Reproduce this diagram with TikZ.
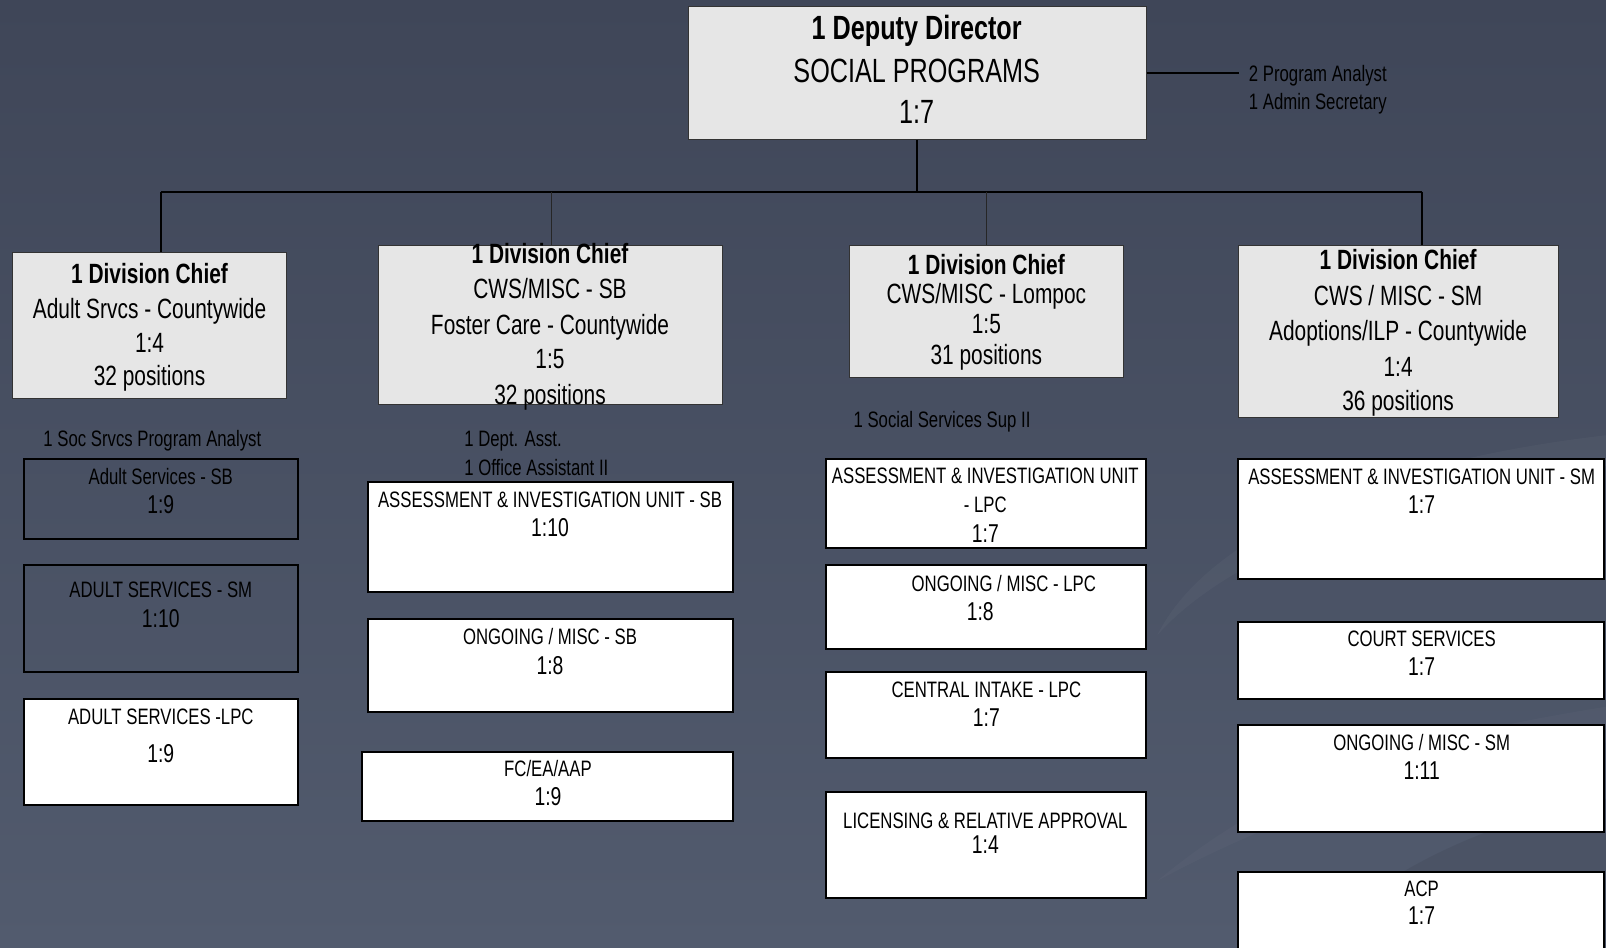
\documentclass[tikz,border=0pt]{standalone}
\usepackage{fontspec}
\setmainfont{Liberation Sans}[FakeStretch=0.75]
\usetikzlibrary{fit}
\definecolor{bgtop}{HTML}{3F4658}
\definecolor{bgbot}{HTML}{525B6E}
\definecolor{chiefgrey}{HTML}{E6E6E6}
\definecolor{chiefedge}{HTML}{333333}
\begin{document}
\begin{tikzpicture}[x=0.5pt,y=-0.5pt,
  line/.style={inner sep=0pt, text height=0.72em, text depth=0pt, anchor=center, text=black, yshift=-1pt},
  lline/.style={line, anchor=west},
  toptxt/.style={line, font=\fontsize{16.4}{19}\selectfont, yshift=-0.6pt},
  topbold/.style={line, font=\fontsize{16.4}{19}\bfseries, yshift=-0.6pt},
  chieftxt/.style={line, font=\fontsize{13.6}{16}\selectfont},
  chiefbold/.style={line, font=\fontsize{13.6}{16}\bfseries},
  unittxt/.style={line, font=\fontsize{10.9}{13}\selectfont},
  ratiotxt/.style={line, font=\fontsize{12.6}{14}\selectfont},
  stafftxt/.style={lline, font=\fontsize{10.9}{13}\selectfont},
  chief/.style={draw=chiefedge, line width=0.5pt, fill=chiefgrey, inner sep=0pt},
  unitbox/.style={draw=black, line width=1pt, fill=white, inner sep=0pt},
  darkbox/.style={draw=black, line width=1pt, inner sep=0pt},
  bus/.style={draw=black, line width=1pt},
  thinlink/.style={draw=black!85, line width=0.5pt}]

% background
\fill[top color=bgtop, bottom color=bgbot] (0,0) rectangle (1568,925);
\useasboundingbox (0,0) rectangle (1568,925);
% faint swooshes
\fill[white, opacity=0.03] (1568,425) .. controls (1350,450) and (1180,520) .. (1130,620)
  .. controls (1200,540) and (1380,470) .. (1568,455) -- cycle;
\fill[white, opacity=0.025] (1568,690) .. controls (1380,720) and (1250,760) .. (1130,860)
  .. controls (1260,790) and (1400,745) .. (1568,725) -- cycle;
\fill[black, opacity=0.06] (1568,780) .. controls (1450,800) and (1330,860) .. (1280,925)
  -- (1568,925) -- cycle;

% top box
\node[chief, fit={(672,6) (1119,136)}] (top) {};
\node[topbold] (top-1) at (895,28) {1 Deputy Director};
\node[toptxt] (top-2) at (895,70) {SOCIAL PROGRAMS};
\node[toptxt] (top-3) at (895,110) {1:7};

% staff of the deputy director
\coordinate (staffend) at (1210,71);
\draw[bus] (top.east) -- (staffend);
\node[stafftxt] (st0a) at (1219,70) {2 Program Analyst};
\node[stafftxt] (st0b) at (1219,98) {1 Admin Secretary};

% division chiefs
\node[chief, fit={(12,247) (280,389)}] (dc1) {};
\node[chiefbold] (dc1-1) at (146,268) {1 Division Chief};
\node[chieftxt] (dc1-2) at (146,302) {Adult Srvcs - Countywide};
\node[chieftxt] (dc1-3) at (146,335) {1:4};
\node[chieftxt] (dc1-4) at (146,367) {32 positions};

\node[chief, fit={(370,240) (705,395)}] (dc2) {};
\node[chiefbold] (dc2-1) at (537,248) {1 Division Chief};
\node[chieftxt] (dc2-2) at (537,282) {CWS/MISC - SB};
\node[chieftxt] (dc2-3) at (537,317) {Foster Care - Countywide};
\node[chieftxt] (dc2-4) at (537,351) {1:5};
\node[chieftxt] (dc2-5) at (537,386) {32 positions};

\node[chief, fit={(829,240) (1097,369)}] (dc3) {};
\node[chiefbold] (dc3-1) at (963,259) {1 Division Chief};
\node[chieftxt] (dc3-2) at (963,287) {CWS/MISC - Lompoc};
\node[chieftxt] (dc3-3) at (963,316) {1:5};
\node[chieftxt] (dc3-4) at (963,347) {31 positions};

\node[chief, fit={(1209,240) (1522,408)}] (dc4) {};
\node[chiefbold] (dc4-1) at (1365,254) {1 Division Chief};
\node[chieftxt] (dc4-2) at (1365,289) {CWS / MISC - SM};
\node[chieftxt] (dc4-3) at (1365,323) {Adoptions/ILP - Countywide};
\node[chieftxt] (dc4-4) at (1365,358) {1:4};
\node[chieftxt] (dc4-5) at (1365,392) {36 positions};

% connectors
\coordinate (j1) at (157,187);
\coordinate (j2) at (538,187);
\coordinate (j3) at (963,187);
\coordinate (j4) at (1388,187);
\draw[bus] (j1) -- (j4);
\draw[bus] (top.south) -- (top.south |- j1);
\draw[bus] (j1) -- (j1 |- dc1.north);
\draw[thinlink] (j2) -- (j2 |- dc2.north);
\draw[thinlink] (j3) -- (j3 |- dc3.north);
\draw[bus] (j4) -- (j4 |- dc4.north);

% support staff
\node[stafftxt] (st1) at (42,427) {1 Soc Srvcs Program Analyst};
\node[stafftxt] (st2a) at (453,427) {1 Dept. Asst.};
\node[stafftxt] (st2b) at (453,455) {1 Office Assistant II};
\node[stafftxt] (st3) at (833,408) {1 Social Services Sup II};

% adult services units
\node[darkbox, fit={(23,448) (291,526)}] (a1) {};
\node[unittxt] (a1-1) at (157,464) {Adult Services - SB};
\node[ratiotxt] (a1-2) at (157,492) {1:9};
\node[darkbox, fit={(23,552) (291,656)}] (a2) {};
\node[unittxt] (a2-1) at (157,574) {ADULT SERVICES - SM};
\node[ratiotxt] (a2-2) at (157,603) {1:10};
\node[unitbox, fit={(23,682) (291,786)}] (a3) {};
\node[unittxt] (a3-1) at (157,698) {ADULT SERVICES -LPC};
\node[ratiotxt] (a3-2) at (157,735) {1:9};

% Santa Barbara units
\node[unitbox, fit={(359,471) (716,578)}] (b1) {};
\node[unittxt] (b1-1) at (537,486) {ASSESSMENT \& INVESTIGATION UNIT - SB};
\node[ratiotxt] (b1-2) at (537,515) {1:10};
\node[unitbox, fit={(359,604) (716,695)}] (b2) {};
\node[unittxt] (b2-1) at (537,620) {ONGOING / MISC - SB};
\node[ratiotxt] (b2-2) at (537,649) {1:8};
\node[unitbox, fit={(353,734) (716,802)}] (b3) {};
\node[unittxt] (b3-1) at (535,749) {FC/EA/AAP};
\node[ratiotxt] (b3-2) at (535,777) {1:9};

% Lompoc units
\node[unitbox, fit={(806,448) (1119,535)}] (c1) {};
\node[unittxt] (c1-1) at (962,463) {ASSESSMENT \& INVESTIGATION UNIT};
\node[unittxt] (c1-2) at (962,491) {- LPC};
\node[ratiotxt] (c1-3) at (962,520) {1:7};
\node[unitbox, fit={(806,552) (1119,634)}] (c2) {};
\node[unittxt] (c2-1) at (980,568) {ONGOING / MISC - LPC};
\node[ratiotxt] (c2-2) at (957,597) {1:8};
\node[unitbox, fit={(806,656) (1119,740)}] (c3) {};
\node[unittxt] (c3-1) at (963,672) {CENTRAL INTAKE - LPC};
\node[ratiotxt] (c3-2) at (963,700) {1:7};
\node[unitbox, fit={(806,773) (1119,877)}] (c4) {};
\node[unittxt] (c4-1) at (962,800) {LICENSING \& RELATIVE APPROVAL};
\node[ratiotxt] (c4-2) at (962,824) {1:4};

% Santa Maria units
\node[unitbox, fit={(1209,448) (1566,565)}] (d1) {};
\node[unittxt] (d1-1) at (1388,464) {ASSESSMENT \& INVESTIGATION UNIT - SM};
\node[ratiotxt] (d1-2) at (1388,492) {1:7};
\node[unitbox, fit={(1209,607) (1566,682)}] (d2) {};
\node[unittxt] (d2-1) at (1388,622) {COURT SERVICES};
\node[ratiotxt] (d2-2) at (1388,650) {1:7};
\node[unitbox, fit={(1209,708) (1566,812)}] (d3) {};
\node[unittxt] (d3-1) at (1388,724) {ONGOING / MISC - SM};
\node[ratiotxt] (d3-2) at (1388,752) {1:11};
\node[unitbox, fit={(1209,851) (1566,940)}] (d4) {};
\node[unittxt] (d4-1) at (1388,866) {ACP};
\node[ratiotxt] (d4-2) at (1388,893) {1:7};
\end{tikzpicture}
\end{document}
